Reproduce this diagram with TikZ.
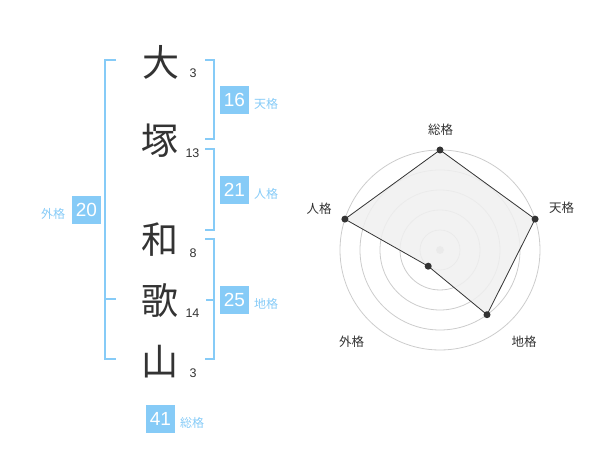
\documentclass[tikz,border=0pt]{standalone}
\usepackage{fontspec}
\setmainfont{Liberation Sans}
\newfontfamily\jp{Noto Sans CJK JP}
\definecolor{kblue}{HTML}{86CBF7}
\definecolor{ink}{HTML}{333333}
\definecolor{ring}{HTML}{CCCCCC}
\definecolor{area}{HTML}{F0F0F0}
\tikzset{
  kanji/.style={inner sep=0pt, text=ink, font=\jp\fontsize{37}{37}\selectfont},
  strokes/.style={inner sep=0pt, text=ink, font=\fontsize{12.5}{12.5}\selectfont},
  scorebox/.style={inner sep=0pt, minimum width=29pt, minimum height=28pt, fill=kblue, text=white, font=\fontsize{19}{19}\selectfont},
  kaku/.style={inner sep=0pt, text=kblue, font=\jp\fontsize{12}{12}\selectfont},
  bracket/.style={draw=kblue, line width=2pt},
  axislabel/.style={inner sep=0pt, text=ink, font=\jp\fontsize{12.5}{12.5}\selectfont},
  dot/.style={circle, fill=ink, inner sep=0pt, minimum size=7pt},
}
\begin{document}
\begin{tikzpicture}[x=1pt,y=-1pt]
\useasboundingbox (0,0) rectangle (600,470);
% name characters
\node[kanji] (k1) at (160.5,62) {大};
\node[kanji] (k2) at (160,140.5) {塚};
\node[kanji] (k3) at (160,240) {和};
\node[kanji] (k4) at (160,301) {歌};
\node[kanji] (k5) at (160,362) {山};
% stroke counts
\node[strokes] (s1) at (193,73) {3};
\node[strokes] (s2) at (192.5,153) {13};
\node[strokes] (s3) at (193,253) {8};
\node[strokes] (s4) at (192.5,313) {14};
\node[strokes] (s5) at (193,373) {3};
% brackets
\draw[bracket] (116,60) -- (105,60) -- (105,359) -- (116,359);
\draw[bracket] (105,299) -- (116,299);
\draw[bracket] (205,60) -- (214,60) -- (214,139) -- (205,139);
\draw[bracket] (205,149) -- (214,149) -- (214,230) -- (205,230);
\draw[bracket] (205,239) -- (214,239) -- (214,359) -- (205,359);
\draw[bracket] (214,300) -- (206,300);
% score boxes
\node[scorebox] (ten) at (234.5,100) {16};
\node[kaku, anchor=west] (tenl) at (254,104) {天格};
\node[scorebox] (jin) at (234.5,190) {21};
\node[kaku, anchor=west] (jinl) at (254,194) {人格};
\node[scorebox] (chi) at (234.5,300) {25};
\node[kaku, anchor=west] (chil) at (254,304) {地格};
\node[scorebox] (gai) at (86.5,210) {20};
\node[kaku] (gail) at (53,213.5) {外格};
\node[scorebox] (sou) at (160.5,419) {41};
\node[kaku, anchor=west] (soul) at (180,423) {総格};
% radar chart
\coordinate (c) at (440,250);
\foreach \r in {20,40,60,80,100} \draw[ring, line width=0.8pt] (c) circle[radius=\r];
\fill[ring] (c) circle[radius=4];
\coordinate (p1) at (440,150);
\coordinate (p2) at (535.1,219.1);
\coordinate (p3) at (487,314.7);
\coordinate (p4) at (428.2,266.2);
\coordinate (p5) at (344.9,219.1);
\filldraw[fill=area, fill opacity=0.85, draw=ink, line width=0.8pt] (p1) -- (p2) -- (p3) -- (p4) -- (p5) -- cycle;
\foreach \p in {p1,p2,p3,p4,p5} \node[dot] at (\p) {};
\node[axislabel] (a1) at (440.5,130) {総格};
\node[axislabel] (a2) at (561.5,208) {天格};
\node[axislabel] (a3) at (319,209) {人格};
\node[axislabel] (a4) at (351.5,341.5) {外格};
\node[axislabel] (a5) at (524,341.5) {地格};
\end{tikzpicture}
\end{document}
